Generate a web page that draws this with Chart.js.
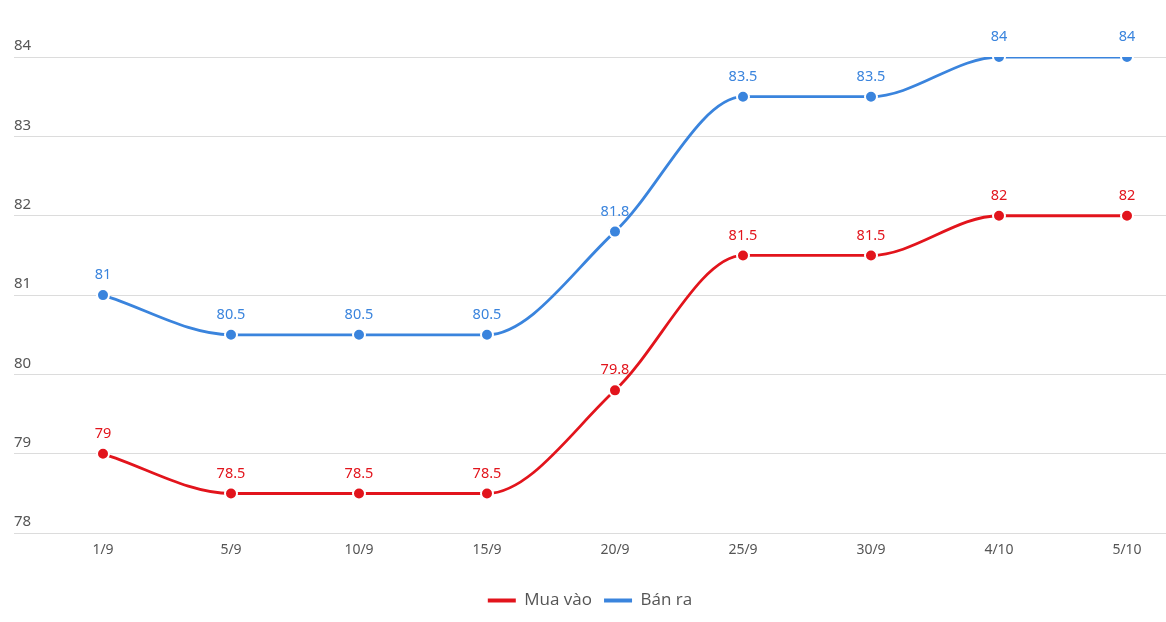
<!DOCTYPE html>
<html>
<head>
<meta charset="utf-8">
<script src="https://cdn.jsdelivr.net/npm/chart.js@4"></script>
<style>
  html, body { margin: 0; padding: 0; background: #fff; }
  #wrap { width: 1166px; height: 622px; }
</style>
</head>
<body>
<div id="wrap"><canvas id="priceChart"></canvas></div>
<script>
// Dates on the x axis
const dates = ['1/9', '5/9', '10/9', '15/9', '20/9', '25/9', '30/9', '4/10', '5/10'];
// Buying price (Mua vào)
const buyPrices = [79, 78.5, 78.5, 78.5, 79.8, 81.5, 81.5, 82, 82];
// Selling price (Bán ra)
const sellPrices = [81, 80.5, 80.5, 80.5, 81.8, 83.5, 83.5, 84, 84];
// Y axis ticks
const yTicks = [78, 79, 80, 81, 82, 83, 84];

const RED = '#e2141c';
const BLUE = '#3a84dd';

function toPoints(values) {
    return values.map((v, i) => ({ x: i, y: v }));
}

// Draw the value above each point
const valueLabels = {
    id: 'valueLabels',
    afterDatasetsDraw(chart) {
        const ctx = chart.ctx;
        ctx.save();
        ctx.font = '14.5px "Noto Sans"';
        ctx.textAlign = 'center';
        ctx.textBaseline = 'middle';
        chart.data.datasets.forEach((ds, di) => {
            const meta = chart.getDatasetMeta(di);
            ctx.fillStyle = ds.borderColor;
            meta.data.forEach((pt, i) => {
                ctx.fillText(String(ds.data[i].y), pt.x, pt.y - 20);
            });
        });
        ctx.restore();
    }
};

var ctx = document.getElementById('priceChart').getContext('2d');
var priceChart = new Chart(ctx, {
    type: 'line',
    data: {
        datasets: [{
            label: 'Mua vào',
            data: toPoints(buyPrices),
            borderColor: RED,
            backgroundColor: RED,
            borderWidth: 2.8,
            pointRadius: 6,
            pointBorderWidth: 2,
            pointBorderColor: '#fff',
            pointBackgroundColor: RED,
            cubicInterpolationMode: 'monotone'
        }, {
            label: 'Bán ra',
            data: toPoints(sellPrices),
            borderColor: BLUE,
            backgroundColor: BLUE,
            borderWidth: 2.8,
            pointRadius: 6,
            pointBorderWidth: 2,
            pointBorderColor: '#fff',
            pointBackgroundColor: BLUE,
            cubicInterpolationMode: 'monotone'
        }]
    },
    options: {
        responsive: true,
        maintainAspectRatio: false,
        animation: false,
        layout: {
            autoPadding: false,
            padding: { top: 57, left: 14, right: 0, bottom: 3 }
        },
        scales: {
            x: {
                type: 'linear',
                min: -89 / 128,
                max: 8 + 39 / 128,
                afterBuildTicks: scale => {
                    scale.ticks = dates.map((_, i) => ({ value: i }));
                },
                afterFit: scale => {
                    // leave room between the axis labels and the legend
                    scale.height += 14;
                },
                grid: { display: false, drawTicks: false },
                border: { display: false },
                ticks: {
                    autoSkip: false,
                    maxRotation: 0,
                    padding: 8,
                    color: '#555',
                    font: { family: '"Noto Sans"', size: 14 },
                    callback: v => dates[v]
                }
            },
            y: {
                min: 78,
                max: 84,
                afterBuildTicks: scale => {
                    scale.ticks = yTicks.map(v => ({ value: v }));
                },
                grid: { color: '#dcdcdc', lineWidth: 1, drawTicks: false },
                border: { display: false },
                ticks: {
                    mirror: true,
                    padding: 0,
                    labelOffset: -11,
                    color: '#555',
                    font: { family: '"Noto Sans"', size: 15 }
                }
            }
        },
        plugins: {
            tooltip: { enabled: false },
            legend: {
                position: 'bottom',
                labels: {
                    usePointStyle: true,
                    pointStyle: 'line',
                    pointStyleWidth: 28,
                    boxHeight: 10,
                    padding: 12,
                    color: '#555',
                    font: { family: '"Open Sans"', size: 17 },
                    generateLabels: chart => {
                        const items = Chart.defaults.plugins.legend.labels.generateLabels(chart);
                        items.forEach((it, i) => {
                            const ds = chart.data.datasets[i];
                            it.lineWidth = 4;
                            it.pointStyle = 'line';
                            it.strokeStyle = ds.borderColor;
                            it.fillStyle = ds.borderColor;
                        });
                        return items;
                    }
                }
            }
        }
    },
    plugins: [valueLabels]
});
</script>
</body>
</html>
